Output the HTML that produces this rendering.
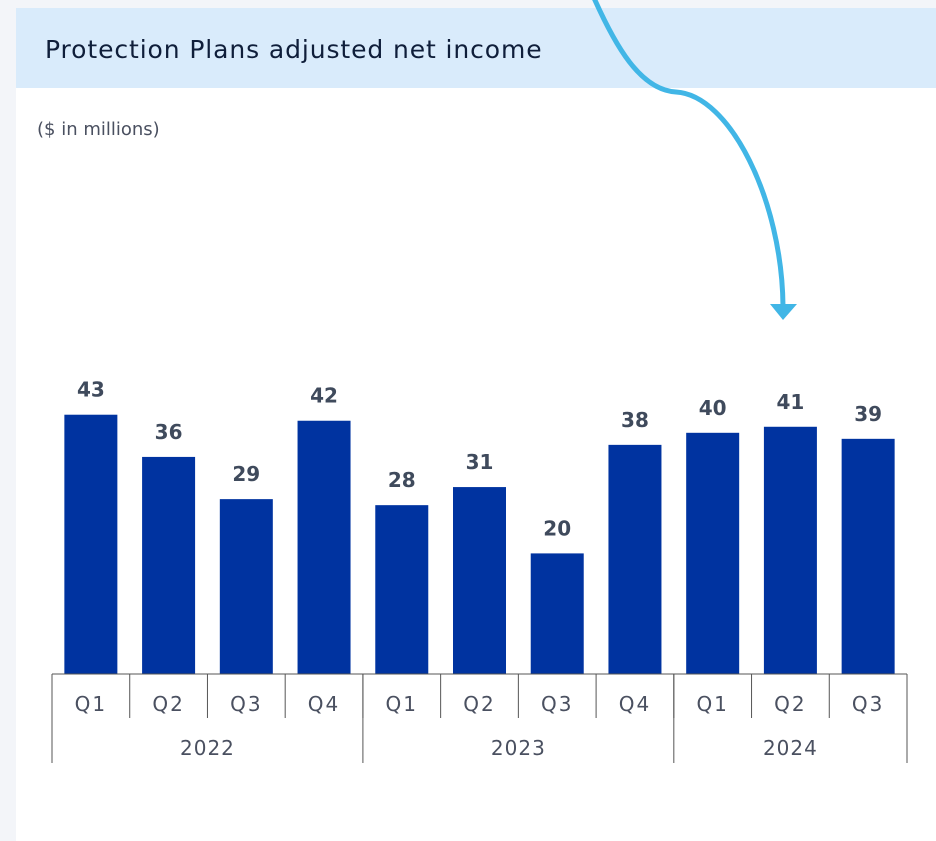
<!DOCTYPE html>
<html><head><meta charset="utf-8"><style>
body{margin:0;width:936px;height:841px;background:#f3f5f9;overflow:hidden;font-family:"DejaVu Sans","Liberation Sans",sans-serif}
#panel{position:absolute;left:16px;top:8px;width:920px;height:833px;background:#fff}
#band{position:absolute;left:16px;top:8px;width:920px;height:80px;background:#d9ebfb}
#title{position:absolute;left:45px;top:35px;font-size:25px;color:#0f1e3a;letter-spacing:0.9px}
#units{position:absolute;left:37px;top:119px;font-size:18px;color:#4a5060}
svg{position:absolute;left:0;top:0}
</style></head><body>
<div id="panel"></div>
<div id="band"></div>
<div id="title">Protection Plans adjusted net income</div>
<div id="units">($ in millions)</div>
<svg id="chart" width="936" height="841"></svg>
<script>
const quarters=["Q1","Q2","Q3","Q4","Q1","Q2","Q3","Q4","Q1","Q2","Q3"];
const values=[43,36,29,42,28,31,20,38,40,41,39];
const years=["2022","2023","2024"];
const yearCounts=[4,4,3];
const NS="http://www.w3.org/2000/svg";
const svg=document.getElementById('chart');
const x0=52,x1=907,y0=674,scale=6.03;
const cw=(x1-x0)/quarters.length,bw=53;
function xc(i){return x0+cw*(i+0.5);}
function y(v){return y0-v*scale;}
function el(t,a){const e=document.createElementNS(NS,t);for(const k in a)e.setAttribute(k,a[k]);svg.appendChild(e);return e;}
values.forEach((v,i)=>{
 const r=el('rect',{x:xc(i)-bw/2,y:y(v),width:bw,height:v*scale,fill:'#0033a0'});
 
 
 const t=el('text',{x:xc(i),y:y(v)-18,'text-anchor':'middle','font-size':'20','font-weight':'bold',fill:'#3f4a5c'});
 t.textContent=v;
 
 
 const q=el('text',{x:xc(i),y:711,'text-anchor':'middle','font-size':'20',fill:'#4a5060','letter-spacing':'2'});
 q.textContent=quarters[i];
 
 
 if(i>0){const l=el('line',{x1:x0+cw*i,x2:x0+cw*i,y1:y0,y2:718,stroke:'#555',"stroke-width":1});
 
 }
});
const ax=el('line',{x1:x0,x2:x1,y1:y0,y2:y0,stroke:'#555','stroke-width':1});


let b=0;
const bounds=[0];yearCounts.forEach(c=>{b+=c;bounds.push(b);});
bounds.forEach(bi=>{const l=el('line',{x1:x0+cw*bi,x2:x0+cw*bi,y1:y0,y2:763,stroke:'#555','stroke-width':1});
 
 });
years.forEach((yr,k)=>{
 const t=el('text',{x:x0+cw*(bounds[k]+bounds[k+1])/2,y:755,'text-anchor':'middle','font-size':'20',fill:'#4a5060','letter-spacing':'1'});
 t.textContent=yr;
 
 
});
const ar=el('path',{d:'M594,-2 C615,45 640,90 676,92 C730,95 782,200 783,306',fill:'none',stroke:'#41b6e6','stroke-width':5});


const ah=el('path',{d:'M770,304 L797,304 L783,320 Z',fill:'#41b6e6'});


</script>
</body></html>
